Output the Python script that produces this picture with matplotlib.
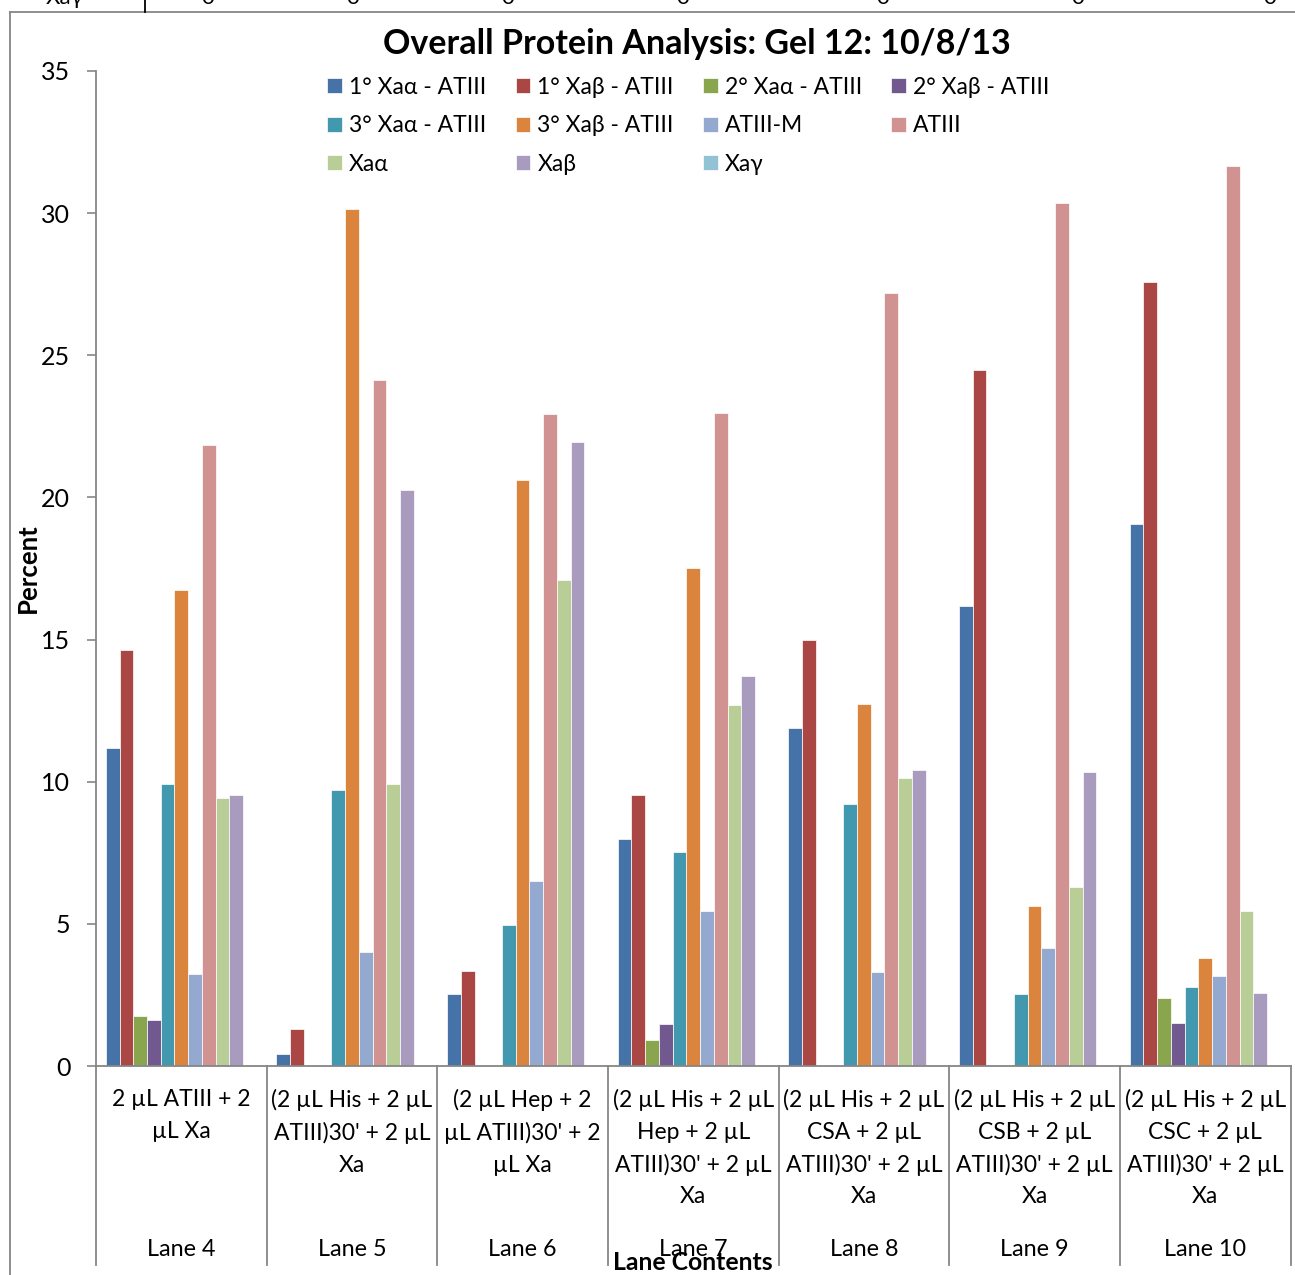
import matplotlib.pyplot as plt
from matplotlib.lines import Line2D
import matplotlib.transforms as mtransforms
import numpy as np

plt.rcParams['font.family'] = ['Lato', 'DejaVu Sans']

# lanes on the x axis
lanes = ["Lane 4", "Lane 5", "Lane 6", "Lane 7", "Lane 8", "Lane 9", "Lane 10"]
contents = [
    "2 µL ATIII + 2\nµL Xa",
    "(2 µL His + 2 µL\nATIII)30' + 2 µL\nXa",
    "(2 µL Hep + 2\nµL ATIII)30' + 2\nµL Xa",
    "(2 µL His + 2 µL\nHep + 2 µL\nATIII)30' + 2 µL\nXa",
    "(2 µL His + 2 µL\nCSA + 2 µL\nATIII)30' + 2 µL\nXa",
    "(2 µL His + 2 µL\nCSB + 2 µL\nATIII)30' + 2 µL\nXa",
    "(2 µL His + 2 µL\nCSC + 2 µL\nATIII)30' + 2 µL\nXa",
]

series_names = ["1° Xaα - ATIII", "1° Xaβ - ATIII", "2° Xaα - ATIII", "2° Xaβ - ATIII",
                "3° Xaα - ATIII", "3° Xaβ - ATIII", "ATIII-M", "ATIII",
                "Xaα", "Xaβ", "Xaγ"]

prim_a = [11.19, 0.42, 2.53, 7.98, 11.89, 16.18, 19.06]
prim_b = [14.63, 1.30, 3.34, 9.53, 14.98, 24.48, 27.58]
sec_a = [1.76, 0, 0, 0.91, 0, 0, 2.39]
sec_b = [1.62, 0, 0, 1.48, 0, 0, 1.51]
ter_a = [9.92, 9.71, 4.96, 7.53, 9.22, 2.53, 2.78]
ter_b = [16.74, 30.14, 20.61, 17.52, 12.73, 5.63, 3.80]
atiii_m = [3.24, 4.01, 6.51, 5.45, 3.31, 4.15, 3.17]
atiii = [21.84, 24.13, 22.93, 22.97, 27.19, 30.36, 31.66]
xa_alpha = [9.43, 9.92, 17.09, 12.70, 10.13, 6.30, 5.45]
xa_beta = [9.53, 20.26, 21.95, 13.72, 10.41, 10.34, 2.57]
xa_gamma = [0, 0, 0, 0, 0, 0, 0]

# cut-off table row visible above the chart
table_label = "Xaγ"
table_zeros = ["0", "0", "0", "0", "0", "0", "0"]

all_series = [prim_a, prim_b, sec_a, sec_b, ter_a, ter_b, atiii_m, atiii,
              xa_alpha, xa_beta, xa_gamma]
colors = ["#4572A7", "#AA4643", "#89A54E", "#71588F", "#4198AF", "#DB843D",
          "#93A9CF", "#D19392", "#B9CD96", "#A99BBD", "#91C3D5"]

fig = plt.figure(figsize=(12.95, 12.75), dpi=100)
ax = fig.add_axes([96 / 1295, 209 / 1275, 1194.5 / 1295, 995 / 1275])

x = np.arange(len(lanes))
n = len(all_series)
w = 0.885 / n
handles = []
for i, (vals, col) in enumerate(zip(all_series, colors)):
    b = ax.bar(x - 0.885 / 2 + w * (i + 0.5), vals, width=w, color=col,
               edgecolor='white', linewidth=0.5, label=series_names[i])
    handles.append(b)

ax.set_xlim(-0.5, len(lanes) - 0.5)
ax.set_ylim(0, 35)
ax.set_yticks(range(0, 36, 5))
ax.tick_params(axis='y', length=6.5, width=1.2, color='#868686', labelsize=18, pad=12)
ax.set_xticks([])
for s in ['top', 'right']:
    ax.spines[s].set_visible(False)
for s in ['left', 'bottom']:
    ax.spines[s].set_color('#868686')
    ax.spines[s].set_linewidth(1.3)

ax.set_ylabel("Percent", fontsize=18.5, fontweight='bold', labelpad=1)

# multi-level category axis
trans = mtransforms.blended_transform_factory(ax.transData, ax.transAxes)
for b in np.arange(-0.5, len(lanes), 1.0):
    ax.add_line(Line2D([b, b], [0, -0.2], transform=trans, color='#868686',
                       linewidth=1.3, clip_on=False))
for xi, c, lane in zip(x, contents, lanes):
    ax.text(xi, -23 / 995, c, transform=trans, ha='center', va='top',
            fontsize=16.5, linespacing=1.62)
    ax.text(xi, -183 / 995, lane, transform=trans, ha='center', va='center',
            fontsize=16.8)
ax.text(3, -197 / 995, "Lane Contents", transform=trans, ha='center', va='center',
        fontsize=17.8, fontweight='bold')

order = [0, 4, 8, 1, 5, 9, 2, 6, 10, 3, 7]
ax.legend([handles[i] for i in order], [series_names[i] for i in order],
          ncol=4, frameon=False, fontsize=16.5, loc='upper left',
          bbox_to_anchor=(0.182, 1.008), handlelength=0.65, handleheight=0.65,
          handletextpad=0.3, columnspacing=1.28, labelspacing=0.76,
          borderaxespad=0.2)

fig.text(697 / 1295, 1 - 44 / 1275, "Overall Protein Analysis: Gel 12: 10/8/13",
         ha='center', va='center', fontsize=24.5, fontweight='bold')

# chart frame
fig.add_artist(Line2D([10 / 1295, 10 / 1295], [0, 1 - 12 / 1275], color='#868686',
                      linewidth=1.3, transform=fig.transFigure))
fig.add_artist(Line2D([10 / 1295, 1], [1 - 12 / 1275, 1 - 12 / 1275], color='#868686',
                      linewidth=1.3, transform=fig.transFigure))

# table row cut off at the top
fig.text(65 / 1295, 1 + 2 / 1275, table_label, ha='center', va='center', fontsize=16)
fig.add_artist(Line2D([145 / 1295, 145 / 1295], [1 - 12 / 1275, 1], color='black',
                      linewidth=1.3, transform=fig.transFigure))
for tx, z in zip([208, 353, 508, 683, 883, 1078, 1270], table_zeros):
    fig.text(tx / 1295, 1 + 2 / 1275, z, ha='center', va='center', fontsize=16)

fig.savefig("out.png", dpi=100)
